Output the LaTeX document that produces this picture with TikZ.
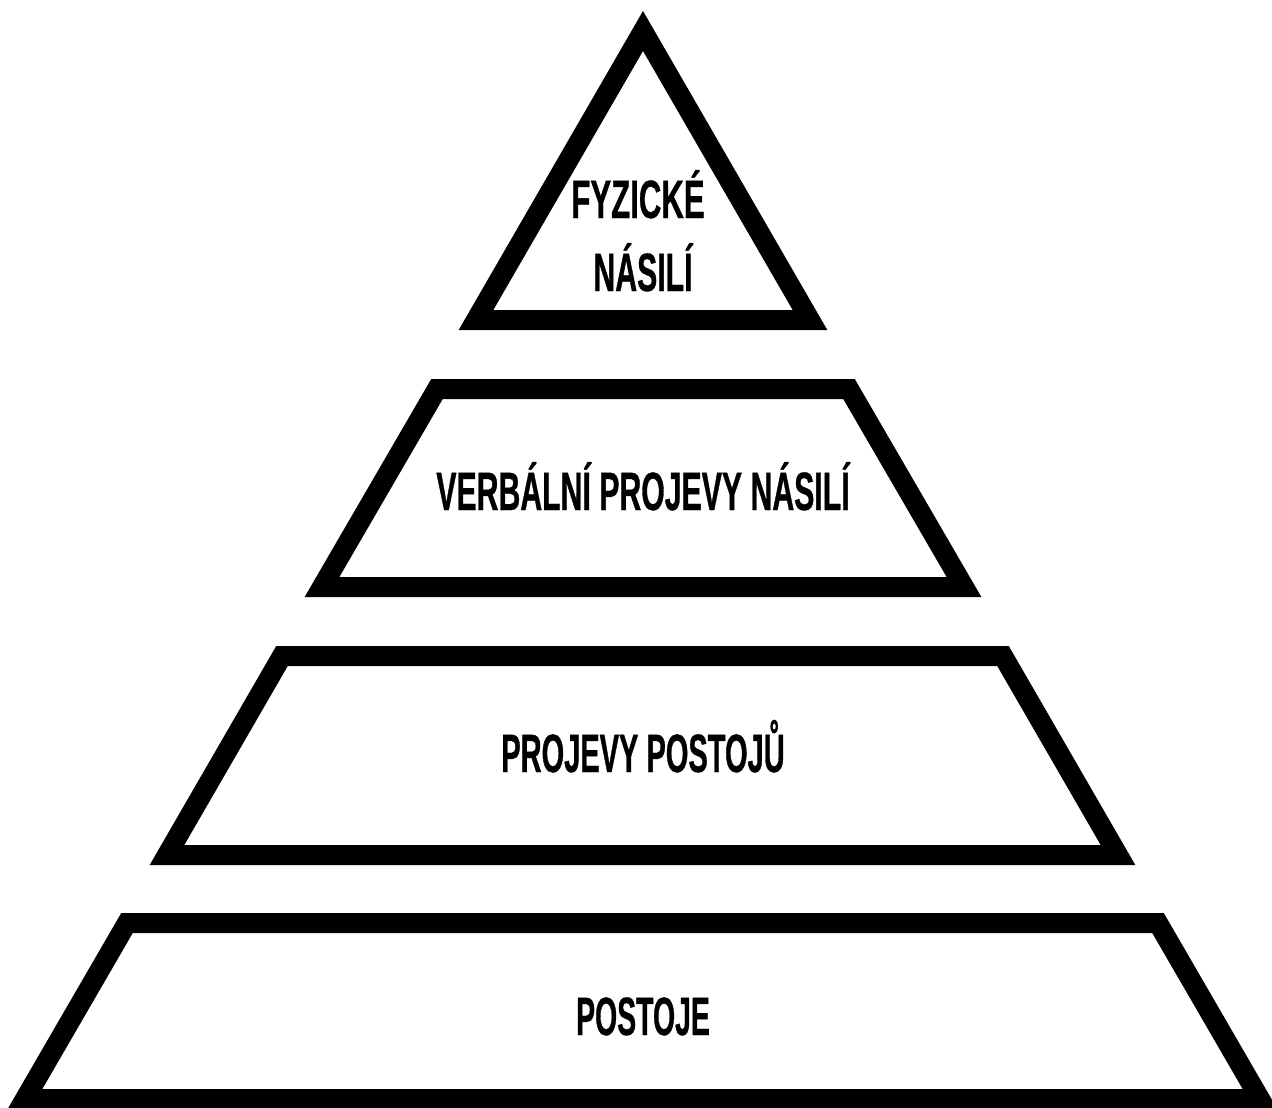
\documentclass[tikz,border=0pt]{standalone}
\usepackage{fontspec}
\newfontfamily\cond[FakeStretch=0.56,FakeBold=0.6]{Liberation Sans}
\begin{document}
\begin{tikzpicture}[x=1pt,y=-1pt,
  level/.style={draw=black,line width=20pt,line join=miter,miter limit=10},
  lbl/.style={font=\cond\bfseries\fontsize{54}{64}\selectfont, anchor=base, inner sep=0pt, text=black}]
\useasboundingbox (0,0) rectangle (1272,1108);
\clip (0,0) rectangle (1272,1108);
% level 1: triangle
\draw[level] (643,31) -- (810,320) -- (476,320) -- cycle;
% level 2
\draw[level] (437,389) -- (849,389) -- (964,587) -- (322,587) -- cycle;
% level 3
\draw[level] (282,656) -- (1003,656) -- (1118,855) -- (167,855) -- cycle;
% level 4
\draw[level] (127,923) -- (1158,923) -- (1260,1099) -- (25,1099) -- cycle;
% labels
\node[lbl] (t1a) at (638,218) {\scalebox{1.03}[1]{FYZICKÉ}};
\node[lbl] (t1b) at (643,291) {\scalebox{1.0}[1]{NÁSILÍ}};
\node[lbl] (t2) at (643,510) {\scalebox{1.0}[1]{VERBÁLNÍ PROJEVY NÁSILÍ}};
\node[lbl] (t3) at (643,772) {\scalebox{0.96}[1]{PROJEVY POSTOJŮ}};
\node[lbl] (t4) at (643,1035) {\scalebox{0.94}[1]{POSTOJE}};
\end{tikzpicture}
\end{document}
